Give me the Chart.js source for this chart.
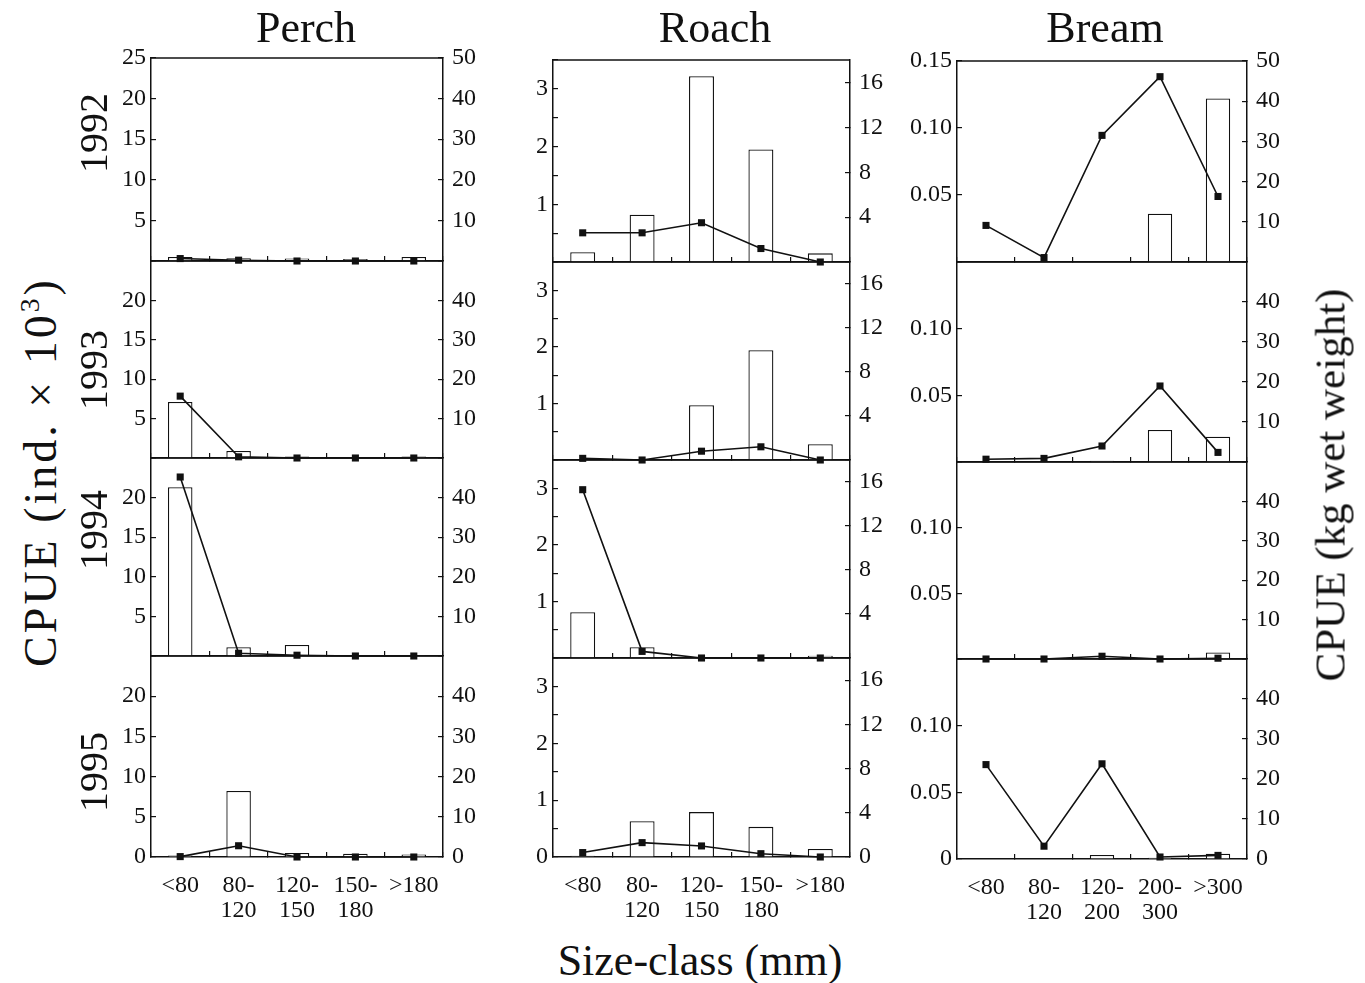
<!DOCTYPE html>
<html>
<head>
<meta charset="utf-8">
<script src="https://cdn.jsdelivr.net/npm/chart.js@4.4.1/dist/chart.umd.min.js"></script>
<style>
  body { margin: 0; background: #fff; width: 1365px; height: 983px; position: relative; overflow: hidden;
         font-family: "Liberation Serif", "DejaVu Serif", serif; color: #111; }
  .lbl { position: absolute; white-space: nowrap; transform: translate(-50%, -50%); z-index: 2; }
  .rot { transform: translate(-50%, -50%) rotate(-90deg); }
  canvas { position: absolute; z-index: 1; }
  sup { font-size: 60%; }
</style>
</head>
<body>

<div class="lbl" style="left:306px;top:27px;font-size:44px">Perch</div>
<div class="lbl" style="left:715px;top:27px;font-size:44px">Roach</div>
<div class="lbl" style="left:1105px;top:27px;font-size:44px">Bream</div>
<div class="lbl" style="left:700px;top:960px;font-size:44px">Size-class (mm)</div>
<div class="lbl rot" style="left:40px;top:472px;font-size:46px;letter-spacing:3px">CPUE (ind. × 10<sup>3</sup>)</div>
<div class="lbl rot" style="left:1330px;top:485px;font-size:43px">CPUE (kg wet weight)</div>
<div id="years"></div>

<script>
// --- data -------------------------------------------------------------
const years = ['1992', '1993', '1994', '1995'];

const sizePerch = ['<80', ['80-', '120'], ['120-', '150'], ['150-', '180'], '>180'];
const sizeRoach = ['<80', ['80-', '120'], ['120-', '150'], ['150-', '180'], '>180'];
const sizeBream = ['<80', ['80-', '120'], ['120-', '200'], ['200-', '300'], '>300'];

// bars: CPUE (ind. x 10^3), left axis
const perchCounts = [
  [0.5, 0.35, 0.3, 0.25, 0.5],
  [7.1, 0.9, 0.2, 0.1, 0.2],
  [21.3, 1.1, 1.4, 0.1, 0.1],
  [0.2, 8.2, 0.5, 0.4, 0.3],
];
const roachCounts = [
  [0.17, 0.82, 3.22, 1.95, 0.15],
  [0, 0, 0.97, 1.94, 0.28],
  [0.81, 0.19, 0, 0, 0.04],
  [0.02, 0.63, 0.79, 0.53, 0.14],
];
const breamCounts = [
  [0, 0, 0, 0.036, 0.122],
  [0, 0, 0.001, 0.024, 0.019],
  [0, 0, 0, 0, 0.005],
  [0, 0, 0.003, 0.001, 0.004],
];

// line: CPUE (kg wet weight), right axis
const perchWeights = [
  [0.6, 0.2, 0, 0, 0],
  [15.7, 0.3, 0, 0, 0],
  [45.2, 0.7, 0.2, 0, 0],
  [0.1, 2.8, 0, 0, 0],
];
const roachWeights = [
  [2.6, 2.6, 3.5, 1.2, 0],
  [0.15, 0, 0.8, 1.2, 0],
  [15.3, 0.6, 0, 0, 0],
  [0.4, 1.3, 1.0, 0.3, 0],
];
const breamWeights = [
  [9.1, 1.1, 31.5, 46.1, 16.3],
  [0.7, 0.9, 4.0, 19, 2.4],
  [0, 0, 0.7, 0, 0.2],
  [23.6, 3.2, 23.8, 0.5, 0.9],
];

// axis ranges and tick values
const perchLeftMax = 25, perchRightMax = 50;
const roachLeftMax = 3.5, roachRightMax = 18;
const breamLeftMax = 0.15, breamRightMax = 50;
const perchLeftTicks = [0, 5, 10, 15, 20, 25];
const perchRightTicks = [0, 10, 20, 30, 40, 50];
const roachLeftTicks = [0, 0.5, 1, 1.5, 2, 2.5, 3, 3.5];
const roachRightTicks = [0, 4, 8, 12, 16];
const breamLeftTicks = [0, 0.05, 0.10, 0.15];
const breamRightTicks = [0, 10, 20, 30, 40, 50];

// --- layout -----------------------------------------------------------
const LW = 70, RW = 60, PT = 14, PB = 14, XH = 66;
const INK = '#111';
const tickFont = { family: '"Liberation Serif", serif', size: 24, lineHeight: 1.05 };
const yearTops = [133, 370, 530, 772];

function near(a, b) { return Math.abs(a - b) < 1e-6; }

const columns = [
  {
    labels: sizePerch, counts: perchCounts, weights: perchWeights,
    left: 151, right: 443, tops: [58, 261, 458, 656], bottoms: [261, 458, 656, 857],
    yMax: perchLeftMax, yTicks: perchLeftTicks, y1Max: perchRightMax, y1Ticks: perchRightTicks,
    yLabel: (v, row) => (v > 0 || row === 3) && (v < 25 || row === 0) ? String(v) : '',
    y1Label: (v, row) => (v > 0 || row === 3) && (v < 50 || row === 0) ? String(v) : '',
  },
  {
    labels: sizeRoach, counts: roachCounts, weights: roachWeights,
    left: 553, right: 850, tops: [60, 262, 460, 658], bottoms: [262, 460, 658, 857],
    yMax: roachLeftMax, yTicks: roachLeftTicks, y1Max: roachRightMax, y1Ticks: roachRightTicks,
    yLabel: (v, row) => Number.isInteger(v) && (v > 0 || row === 3) ? String(v) : '',
    y1Label: (v, row) => (v > 0 || row === 3) ? String(v) : '',
  },
  {
    labels: sizeBream, counts: breamCounts, weights: breamWeights,
    left: 957, right: 1247, tops: [61, 262, 462, 659], bottoms: [262, 462, 659, 859],
    yMax: breamLeftMax, yTicks: breamLeftTicks, y1Max: breamRightMax, y1Ticks: breamRightTicks,
    yLabel: (v, row) => (v > 0 || row === 3) && (v < 0.149 || row === 0) ? (near(v, 0) ? '0' : v.toFixed(2)) : '',
    y1Label: (v, row) => (v > 0 || row === 3) && (v < 50 || row === 0) ? String(v) : '',
  },
];

// top edge of each panel box
const framePlugin = {
  id: 'frame',
  afterDraw(chart) {
    const { ctx, chartArea: a } = chart;
    ctx.save();
    ctx.strokeStyle = INK;
    ctx.lineWidth = 1.5;
    ctx.beginPath();
    ctx.moveTo(a.left, a.top);
    ctx.lineTo(a.right, a.top);
    ctx.stroke();
    ctx.restore();
  },
};

function noPad(s) {
  s.paddingTop = 0; s.paddingBottom = 0; s.paddingLeft = 0; s.paddingRight = 0;
}

function makePanel(col, row) {
  const isBottom = row === 3;
  const top = col.tops[row], bottom = col.bottoms[row];
  const w = LW + (col.right - col.left) + RW;
  const h = PT + (bottom - top) + (isBottom ? XH : PB);

  const cv = document.createElement('canvas');
  cv.width = w; cv.height = h;
  cv.style.left = (col.left - LW) + 'px';
  cv.style.top = (top - PT) + 'px';
  cv.style.width = w + 'px';
  cv.style.height = h + 'px';
  document.body.appendChild(cv);

  const axisBorder = { color: INK, width: 1.5 };
  const axisGrid = { drawOnChartArea: false, tickLength: -5, color: INK, lineWidth: 1.2 };

  new Chart(cv, {
    type: 'bar',
    data: {
      labels: col.labels,
      datasets: [
        {
          type: 'line',
          data: col.weights[row],
          yAxisID: 'y1',
          borderColor: INK,
          borderWidth: 1.6,
          pointStyle: 'rect',
          pointRadius: 5,
          pointBackgroundColor: INK,
          pointBorderWidth: 0,
          tension: 0,
          clip: false,
          order: 0,
        },
        {
          type: 'bar',
          data: col.counts[row],
          yAxisID: 'y',
          backgroundColor: '#fff',
          borderColor: INK,
          borderWidth: 1.3,
          barPercentage: 0.42,
          categoryPercentage: 1,
          order: 1,
        },
      ],
    },
    options: {
      responsive: false,
      animation: false,
      events: [],
      layout: { padding: { top: PT, bottom: isBottom ? 0 : PB, left: 0, right: 0 } },
      plugins: { legend: { display: false }, tooltip: { enabled: false } },
      scales: {
        x: {
          grid: { ...axisGrid, offset: true },
          border: axisBorder,
          ticks: { display: isBottom, font: tickFont, color: INK, padding: 21, maxRotation: 0, autoSkip: false },
          afterFit: s => { s.height = isBottom ? XH : 0; noPad(s); },
        },
        y: {
          position: 'left', min: 0, max: col.yMax,
          grid: axisGrid, border: axisBorder,
          ticks: { font: tickFont, color: INK, padding: 10, callback: v => col.yLabel(v, row) },
          afterBuildTicks: s => { s.ticks = col.yTicks.map(v => ({ value: v })); },
          afterFit: s => { s.width = LW; noPad(s); },
        },
        y1: {
          position: 'right', min: 0, max: col.y1Max,
          grid: axisGrid, border: axisBorder,
          ticks: { font: tickFont, color: INK, padding: 14, callback: v => col.y1Label(v, row) },
          afterBuildTicks: s => { s.ticks = col.y1Ticks.map(v => ({ value: v })); },
          afterFit: s => { s.width = RW; noPad(s); },
        },
      },
    },
    plugins: [framePlugin],
  });
}

columns.forEach(col => years.forEach((_, row) => makePanel(col, row)));

// year labels at the left of each row
const yearBox = document.getElementById('years');
years.forEach((y, i) => {
  const d = document.createElement('div');
  d.className = 'lbl rot';
  d.style.left = '93px';
  d.style.top = yearTops[i] + 'px';
  d.style.fontSize = '40px';
  d.textContent = y;
  yearBox.appendChild(d);
});
</script>
</body>
</html>
